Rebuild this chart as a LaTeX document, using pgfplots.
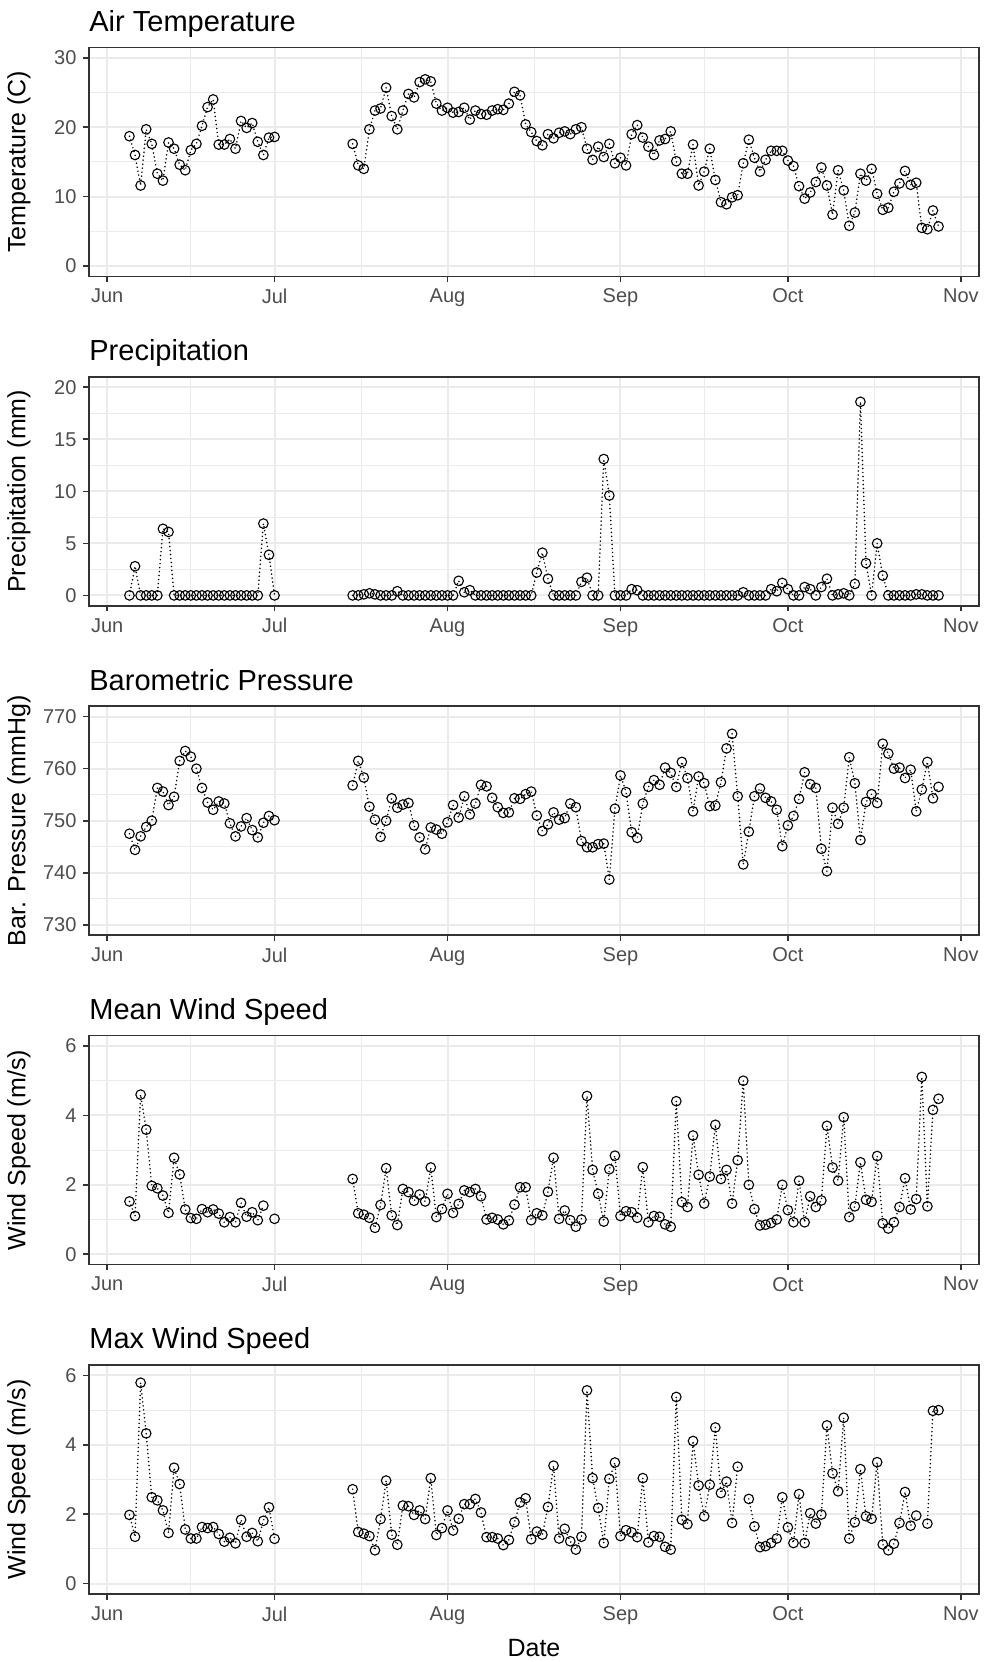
\documentclass[border=0pt]{standalone}
\usepackage{fontspec}
\setmainfont{Liberation Sans}
\usepackage{pgfplots}
\usepackage{pgfplotstable}
\pgfplotsset{compat=1.18}

\definecolor{grey20}{HTML}{333333}
\definecolor{grey30}{HTML}{4D4D4D}
\definecolor{grey92}{HTML}{EBEBEB}

% day = days since 1 June; nan = no reading
\pgfplotstableread{
day temp prec pres wmean wmax
4 18.7 0 747.5 1.52 1.98
5 16.0 2.8 744.4 1.10 1.35
6 11.6 0 747.0 4.60 5.79
7 19.7 0 748.8 3.59 4.33
8 17.6 0 750.0 1.97 2.49
9 13.3 0 756.3 1.90 2.40
10 12.3 6.4 755.6 1.69 2.11
11 17.8 6.1 753.0 1.19 1.46
12 16.9 0 754.6 2.78 3.34
13 14.6 0 761.5 2.30 2.87
14 13.8 0 763.4 1.29 1.56
15 16.7 0 762.3 1.04 1.30
16 17.6 0 760.0 1.02 1.30
17 20.2 0 756.3 1.30 1.63
18 22.9 0 753.5 1.21 1.60
19 24.0 0 752.1 1.29 1.63
20 17.5 0 753.7 1.17 1.43
21 17.5 0 753.3 0.92 1.21
22 18.3 0 749.5 1.07 1.32
23 16.9 0 747.0 0.92 1.16
24 20.9 0 748.9 1.48 1.84
25 19.9 0 750.5 1.08 1.35
26 20.6 0 748.2 1.21 1.46
27 17.9 0 746.8 0.98 1.22
28 16.0 6.9 749.6 1.40 1.81
29 18.5 3.9 750.9 nan 2.20
30 18.6 0 750.1 1.02 1.29
37 nan nan nan nan nan
44 17.6 0 756.8 2.17 2.72
45 14.5 0 761.5 1.18 1.49
46 14.0 0.1 758.3 1.14 1.44
47 19.7 0.2 752.7 1.05 1.37
48 22.4 0.1 750.2 0.76 0.96
49 22.7 0 746.9 1.42 1.86
50 25.7 0 750.0 2.48 2.97
51 21.6 0 754.3 1.12 1.41
52 19.7 0.4 752.5 0.84 1.12
53 22.4 0 753.1 1.88 2.25
54 24.8 0 753.4 1.79 2.23
55 24.3 0 749.1 1.54 1.98
56 26.5 0 746.8 1.72 2.11
57 26.9 0 744.5 1.52 1.86
58 26.6 0 748.7 2.50 3.04
59 23.4 0 748.3 1.07 1.40
60 22.4 0 747.5 1.30 1.60
61 22.8 0 749.7 1.74 2.11
62 22.1 0 753.0 1.19 1.53
63 22.2 1.4 750.6 1.45 1.87
64 22.8 0.3 754.7 1.84 2.29
65 21.1 0.5 751.2 1.79 2.29
66 22.4 0 753.3 1.88 2.44
67 21.9 0 756.9 1.67 2.05
68 21.8 0 756.6 1.00 1.34
69 22.4 0 754.4 1.05 1.34
70 22.6 0 752.6 1.00 1.30
71 22.5 0 751.5 0.86 1.11
72 23.4 0 751.6 0.97 1.26
73 25.1 0 754.3 1.43 1.77
74 24.6 0 754.2 1.93 2.34
75 20.4 0 755.1 1.93 2.46
76 19.3 0 755.6 0.98 1.28
77 18.0 2.2 751.0 1.18 1.50
78 17.4 4.1 748.0 1.12 1.41
79 19.0 1.6 749.3 1.80 2.21
80 18.4 0 751.6 2.78 3.40
81 19.2 0 750.2 1.02 1.30
82 19.4 0 750.5 1.26 1.58
83 19.0 0 753.3 0.98 1.22
84 19.7 0 752.6 0.79 0.98
85 20.0 1.3 746.1 1.00 1.35
86 16.9 1.7 744.9 4.56 5.57
87 15.3 0 744.9 2.43 3.04
88 17.2 0 745.5 1.74 2.18
89 15.7 13.1 745.6 0.94 1.17
90 17.6 9.6 738.7 2.45 3.02
91 14.8 0 752.3 2.84 3.49
92 15.6 0 758.7 1.10 1.37
93 14.5 0 755.5 1.24 1.54
94 19.0 0.6 747.8 1.21 1.48
95 20.3 0.5 746.7 1.05 1.34
96 18.5 0 753.3 2.51 3.04
97 17.2 0 756.5 0.92 1.19
98 16.0 0 757.8 1.10 1.37
99 18.1 0 756.9 1.08 1.35
100 18.3 0 760.2 0.86 1.06
101 19.4 0 759.2 0.79 0.98
102 15.1 0 756.5 4.41 5.38
103 13.3 0 761.3 1.50 1.84
104 13.3 0 758.2 1.36 1.71
105 17.5 0 751.8 3.42 4.11
106 11.6 0 758.5 2.29 2.83
107 13.6 0 757.2 1.46 1.94
108 16.9 0 752.8 2.24 2.85
109 12.4 0 752.9 3.73 4.50
110 9.2 0 757.4 2.17 2.61
111 8.9 0 763.9 2.43 2.94
112 9.9 0 766.7 1.46 1.75
113 10.2 0 754.7 2.71 3.37
114 14.8 0.3 741.6 5.00 nan
115 18.2 0 747.9 2.00 2.44
116 15.6 0 754.7 1.30 1.65
117 13.6 0 756.2 0.83 1.05
118 15.3 0 754.4 0.85 1.08
119 16.6 0.6 753.7 0.90 1.17
120 16.6 0.4 752.1 1.00 1.30
121 16.6 1.2 745.1 2.00 2.49
122 15.2 0.6 749.1 1.27 1.62
123 14.4 0 750.9 0.92 1.17
124 11.5 0 754.2 2.12 2.58
125 9.7 0.8 759.3 0.92 1.17
126 10.6 0.6 757.0 1.67 2.03
127 12.1 0 756.3 1.36 1.73
128 14.2 0.8 744.6 1.55 1.99
129 11.6 1.6 740.3 3.70 4.56
130 7.4 0 752.5 2.50 3.18
131 13.8 0.1 749.4 2.12 2.66
132 10.9 0.2 752.5 3.95 4.78
133 5.8 0 762.2 1.07 1.30
134 7.7 1.1 757.2 1.38 1.77
135 13.3 18.6 746.3 2.65 3.30
136 12.3 3.1 753.6 1.57 1.94
137 14.0 0 755.1 1.51 1.87
138 10.4 5.0 753.4 2.83 3.50
139 8.1 1.9 764.8 0.89 1.13
140 8.4 0 762.9 0.74 0.96
141 10.7 0 760.0 0.92 1.15
142 11.9 0 760.2 1.36 1.75
143 13.7 0 758.2 2.19 2.64
144 11.7 0 759.8 1.29 1.67
145 12.0 0.1 751.8 1.59 1.96
146 5.5 0.1 756.0 5.11 nan
147 5.3 0 761.3 1.38 1.73
148 8.0 0 754.3 4.16 4.98
149 5.7 0 756.5 4.48 5.00
}\weather

\pgfplotsset{
  panel/.style={
    width=445pt, height=114.5pt, scale only axis,
    anchor=south west,
    xmin=-3.25, xmax=156.25,
    xtick={0,30,61,92,122,153},
    xticklabels={Jun,Jul,Aug,Sep,Oct,Nov},
    minor xtick={15,45.5,76.5,107,137.5},
    grid=both,
    major grid style={draw=grey92, line width=1pt},
    minor grid style={draw=grey92, line width=0.5pt},
    axis line style={draw=grey20, line width=0.8pt},
    tick align=outside, tick pos=left,
    major tick length=2.75pt, minor tick length=0pt,
    every tick/.style={draw=grey20, line width=0.8pt},
    tick label style={font=\fontsize{10}{12}\selectfont, text=grey30},
    /pgf/number format/assume math mode=true,
    /pgf/number format/1000 sep={},
    scaled y ticks=false,
    unbounded coords=jump,
    title style={at={(0,1)}, anchor=base west, yshift=2.1pt, inner xsep=0pt,
      font=\fontsize{14.5}{17}\selectfont},
    ylabel style={at={([xshift=-35pt]axis description cs:0,0.5)},
      anchor=center, font=\fontsize{12.5}{15}\selectfont},
    xlabel style={at={([yshift=-27pt]axis description cs:0.5,0)},
      anchor=center, font=\fontsize{12.5}{15}\selectfont},
  },
  series/.style={black, line width=0.85pt, line cap=round,
    dash pattern=on 0pt off 2pt,
    mark=o, mark size=2.4pt, mark options={solid, line width=0.55pt}},
}

\begin{document}
\begin{tikzpicture}
\path[use as bounding box] (0,0) rectangle (493pt,-831pt);

\begin{axis}[panel, at={(44.5pt,-138.2pt)},
  ymin=-1.5, ymax=31.5, ytick={0,10,20,30}, minor ytick={5,15,25},
  title={Air Temperature}, ylabel={Temperature (C)}]
\addplot[series] table[x=day, y=temp] {\weather};
\end{axis}

\begin{axis}[panel, at={(44.5pt,-302.9pt)},
  ymin=-1, ymax=21, ytick={0,5,10,15,20}, minor ytick={2.5,7.5,12.5,17.5},
  title={Precipitation}, ylabel={Precipitation (mm)}]
\addplot[series] table[x=day, y=prec] {\weather};
\end{axis}

\begin{axis}[panel, at={(44.5pt,-467.6pt)},
  ymin=728, ymax=772, ytick={730,740,750,760,770}, minor ytick={735,745,755,765},
  title={Barometric Pressure}, ylabel={Bar. Pressure (mmHg)}]
\addplot[series] table[x=day, y=pres] {\weather};
\end{axis}

\begin{axis}[panel, at={(44.5pt,-632.3pt)},
  ymin=-0.3, ymax=6.3, ytick={0,2,4,6}, minor ytick={1,3,5},
  title={Mean Wind Speed}, ylabel={Wind Speed (m/s)}]
\addplot[series] table[x=day, y=wmean] {\weather};
\end{axis}

\begin{axis}[panel, at={(44.5pt,-797pt)},
  ymin=-0.3, ymax=6.3, ytick={0,2,4,6}, minor ytick={1,3,5},
  title={Max Wind Speed}, ylabel={Wind Speed (m/s)}, xlabel={Date}]
\addplot[series] table[x=day, y=wmax] {\weather};
\end{axis}
\end{tikzpicture}
\end{document}
